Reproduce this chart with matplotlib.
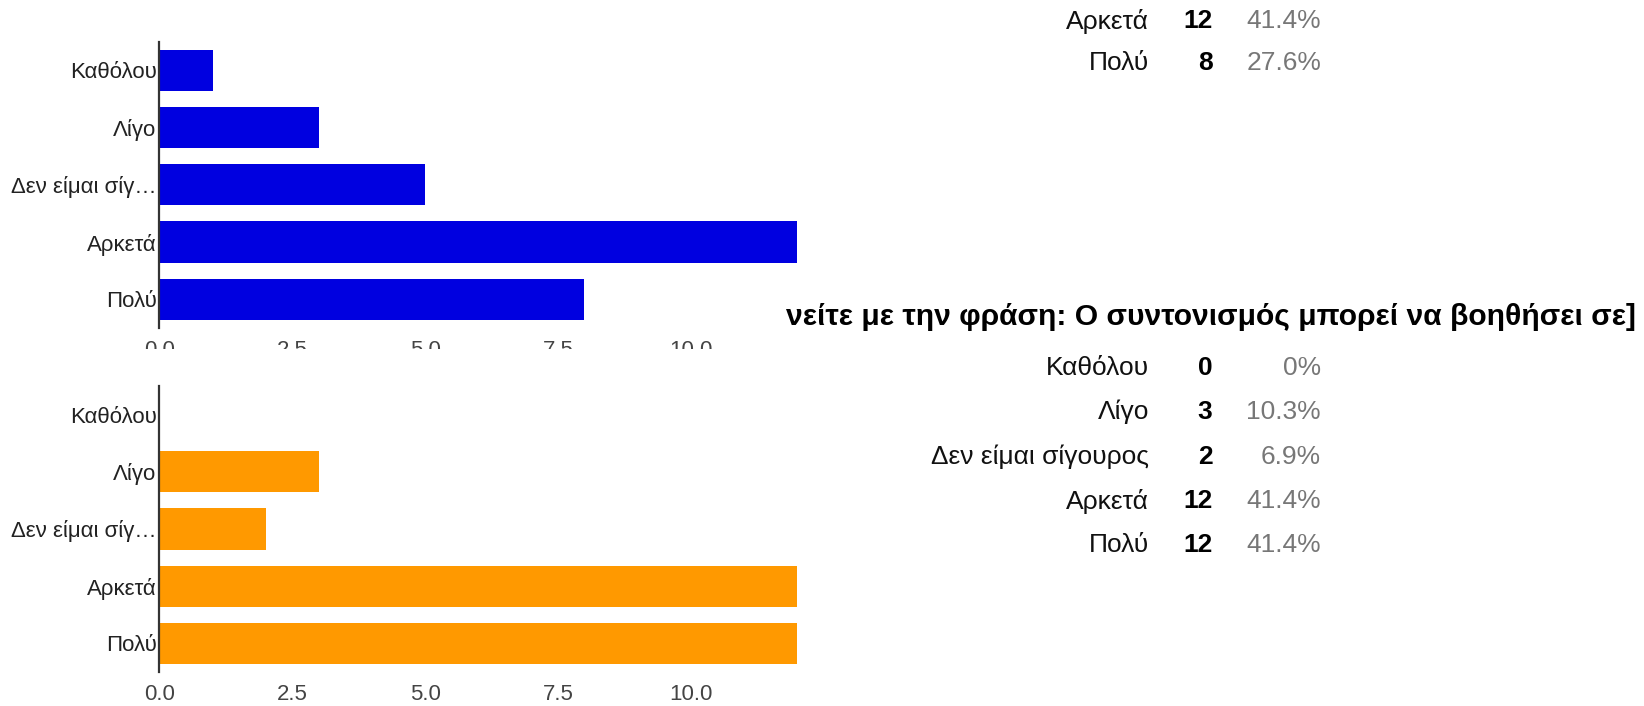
import matplotlib
matplotlib.use("Agg")
import matplotlib.pyplot as plt
from matplotlib.transforms import Bbox

plt.rcParams['font.family'] = ['Liberation Sans', 'DejaVu Sans']

W, H = 1644, 706

# ---- data ----
categories = ["Καθόλου", "Λίγο", "Δεν είμαι σίγ…", "Αρκετά", "Πολύ"]
top_values = [1, 3, 5, 12, 8]
bottom_values = [0, 3, 2, 12, 12]
xticks = [0.0, 2.5, 5.0, 7.5, 10.0]

prev_rows_labels = ["Αρκετά", "Πολύ"]
prev_rows_counts = [12, 8]
prev_rows_pcts = ["41.4%", "27.6%"]

title_text = "νείτε με την φράση: Ο συντονισμός μπορεί να βοηθήσει σε]"
table_labels = ["Καθόλου", "Λίγο", "Δεν είμαι σίγουρος", "Αρκετά", "Πολύ"]
table_counts = [0, 3, 2, 12, 12]
table_pcts = ["0%", "10.3%", "6.9%", "41.4%", "41.4%"]

BLUE = "#0000E0"
ORANGE = "#FF9900"

fig = plt.figure(figsize=(W / 100, H / 100), dpi=100)
fig.patch.set_facecolor("white")


def rect(x0, y0, x1, y1):
    return [x0 / W, 1 - y1 / H, (x1 - x0) / W, (y1 - y0) / H]


def style_axis(ax, values, color):
    ypos = list(range(len(categories)))
    ax.barh(ypos, values, height=0.72, color=color, zorder=2)
    ax.set_ylim(len(categories) - 0.5, -0.5)
    ax.set_xlim(0, 12)
    ax.set_yticks(ypos)
    ax.set_yticklabels(categories, fontsize=16, color="#222222")
    ax.set_xticks(xticks)
    ax.set_xticklabels([f"{t:.1f}" for t in xticks], fontsize=16, color="#444444")
    ax.tick_params(axis="both", length=0)
    ax.tick_params(axis="y", pad=2)
    ax.tick_params(axis="x", pad=8.5)
    for s in ["top", "right", "bottom"]:
        ax.spines[s].set_visible(False)
    ax.spines["left"].set_color("#333333")
    ax.spines["left"].set_linewidth(1.6)
    ax.spines["left"].set_zorder(3)
    ax.set_facecolor("none")


ax_top = fig.add_axes(rect(159.4, 41.7, 797, 328))
style_axis(ax_top, top_values, BLUE)
clip = Bbox([[0, H - 349], [W, H]])
for lab in ax_top.get_xticklabels():
    lab.set_clip_box(clip)
    lab.set_clip_on(True)

ax_bot = fig.add_axes(rect(159.4, 386, 797, 672))
style_axis(ax_bot, bottom_values, ORANGE)

# ---- right-hand tables ----
X_LABEL, X_COUNT, X_PCT = 1149, 1212.5, 1321
FS_TABLE = 19


def table_row(y, label, count, pct):
    fig.text(X_LABEL / W, 1 - y / H, label, ha="right", va="center",
             fontsize=FS_TABLE, color="#111111")
    fig.text(X_COUNT / W, 1 - y / H, str(count), ha="right", va="center",
             fontsize=FS_TABLE, color="#000000", fontweight="bold")
    fig.text(X_PCT / W, 1 - y / H, pct, ha="right", va="center",
             fontsize=FS_TABLE, color="#777777")


for y, l, c, p in zip([21.5, 63], prev_rows_labels, prev_rows_counts, prev_rows_pcts):
    table_row(y, l, c, p)

fig.text(1636 / W, 1 - 317 / H, title_text, ha="right", va="center",
         fontsize=21.6, fontweight="bold", color="#000000")

for y, l, c, p in zip([368, 412, 457, 501, 545], table_labels, table_counts, table_pcts):
    table_row(y, l, c, p)

fig.savefig("out.png", dpi=100, facecolor="white")
